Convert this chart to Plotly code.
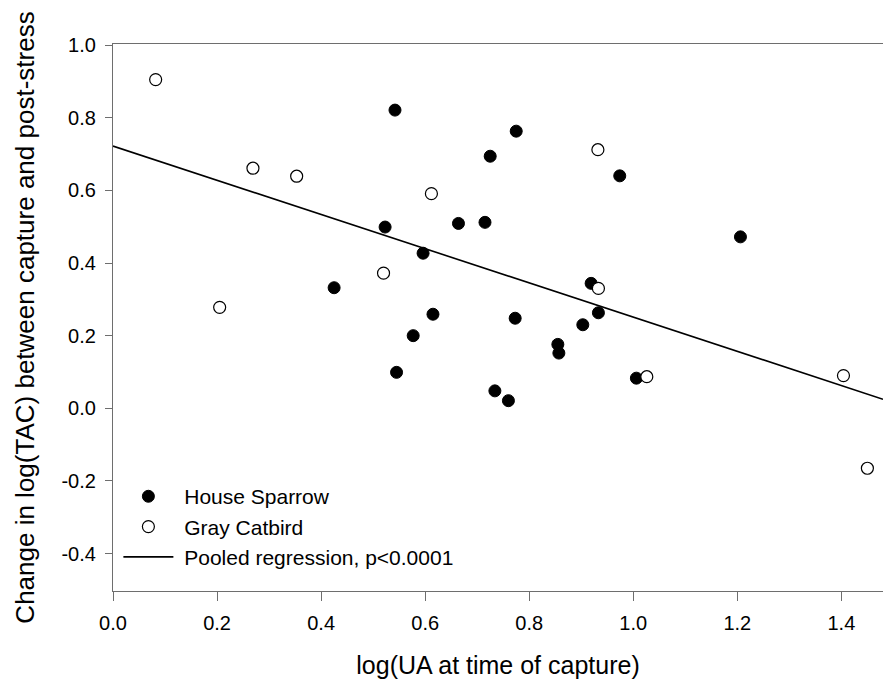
import plotly.graph_objects as go

# House Sparrow (filled)
sparrow_x = [0.425, 0.523, 0.542, 0.545, 0.577, 0.596, 0.615, 0.664, 0.715, 0.725, 0.734,
             0.760, 0.773, 0.775, 0.855, 0.857, 0.903, 0.919, 0.933, 0.974, 1.006, 1.206]
sparrow_y = [0.332, 0.499, 0.821, 0.099, 0.200, 0.427, 0.259, 0.509, 0.512, 0.694, 0.048,
             0.021, 0.248, 0.763, 0.176, 0.152, 0.230, 0.344, 0.263, 0.640, 0.083, 0.472]

# Gray Catbird (open)
catbird_x = [0.082, 0.205, 0.269, 0.353, 0.520, 0.612, 0.932, 0.933, 1.026, 1.404, 1.450]
catbird_y = [0.905, 0.278, 0.661, 0.639, 0.372, 0.591, 0.712, 0.330, 0.087, 0.090, -0.165]

# pooled regression line end points
reg_x = [0.0, 1.48]
reg_y = [0.722, 0.025]

x_ticks = [0.0, 0.2, 0.4, 0.6, 0.8, 1.0, 1.2, 1.4]
y_ticks = [-0.4, -0.2, 0.0, 0.2, 0.4, 0.6, 0.8, 1.0]
y_tick_text = ["-0.4", "-0.2", "0.0", "0.2", "0.4", "0.6", "0.8", "1.0"]

FONT = "Liberation Sans, Arial, sans-serif"
SP = "\u00a0"

fig = go.Figure()
fig.add_trace(go.Scatter(x=sparrow_x, y=sparrow_y, mode="markers", name=SP + "House Sparrow",
                         marker=dict(size=12, color="black", line=dict(color="black", width=1))))
fig.add_trace(go.Scatter(x=catbird_x, y=catbird_y, mode="markers", name=SP + "Gray Catbird",
                         marker=dict(size=12, color="white", line=dict(color="black", width=1.2))))
fig.add_trace(go.Scatter(x=reg_x, y=reg_y, mode="lines", name=SP + "Pooled regression, p<0.0001",
                         line=dict(color="black", width=1.6)))

axis_common = dict(showgrid=False, zeroline=False, showline=True, linecolor="#6e6e6e", linewidth=1.3,
                   ticks="outside", tickcolor="#6e6e6e", tickwidth=1.3,
                   tickfont=dict(size=20, color="black", family=FONT))

fig.update_xaxes(range=[0, 1.48], tickvals=x_ticks, tickformat=".1f", ticklen=9,
                 ticklabelstandoff=5, mirror=True,
                 title=dict(text="log(UA at time of capture)", font=dict(size=25, color="black", family=FONT),
                            standoff=23),
                 **axis_common)
fig.update_yaxes(range=[-0.503, 1.003], tickvals=y_ticks, ticktext=y_tick_text, ticklen=7,
                 ticklabelstandoff=5,
                 title=dict(text="Change in log(TAC) between capture and post-stress",
                            font=dict(size=26, color="black", family=FONT), standoff=19),
                 **axis_common)

fig.update_layout(
    width=883, height=682,
    margin=dict(l=113, r=0, t=44, b=91),
    plot_bgcolor="white", paper_bgcolor="white",
    font=dict(family=FONT, color="black"),
    legend=dict(x=0.007, y=0.21, xanchor="left", yanchor="top", bgcolor="rgba(0,0,0,0)",
                font=dict(size=21, family=FONT, color="black"), tracegroupgap=0, itemwidth=50),
)

# drop the page's default body margin so the figure fills the window; no modebar
fig.write_html("out.html", config={"displayModeBar": False},
               post_script="document.body.style.margin='0';document.body.style.overflow='hidden';")
